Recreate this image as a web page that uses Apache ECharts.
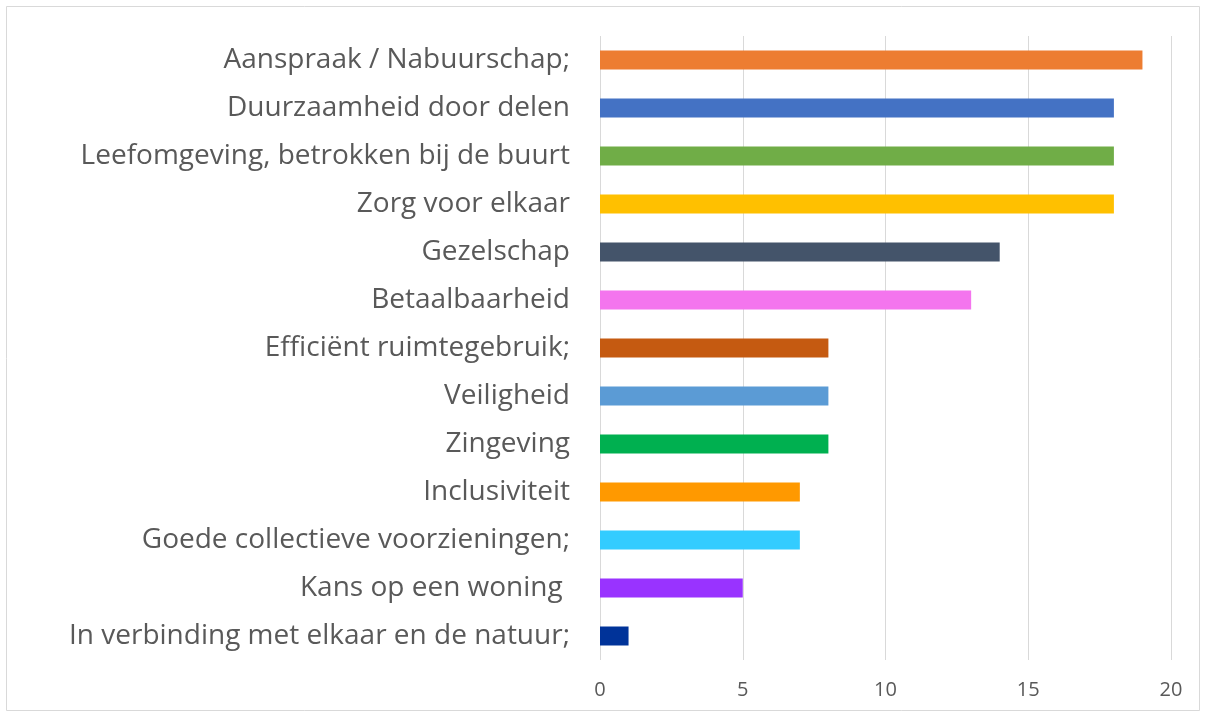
<!DOCTYPE html>
<html><head><meta charset="utf-8">
<script src="https://cdn.jsdelivr.net/npm/echarts@6/dist/echarts.min.js"></script>
<style>html,body{margin:0;padding:0;background:#fff}#c{width:1206px;height:717px}</style>
</head><body><div id="c"></div>
<script>
const categories = [
  "Aanspraak / Nabuurschap;",
  "Duurzaamheid door delen",
  "Leefomgeving, betrokken bij de buurt",
  "Zorg voor elkaar",
  "Gezelschap",
  "Betaalbaarheid",
  "Efficiënt ruimtegebruik;",
  "Veiligheid",
  "Zingeving",
  "Inclusiviteit",
  "Goede collectieve voorzieningen;",
  "Kans op een woning ",
  "In verbinding met elkaar en de natuur;"
];
const values = [19, 18, 18, 18, 14, 13, 8, 8, 8, 7, 7, 5, 1];
const colors = ["#ED7D31","#4472C4","#70AD47","#FFC000","#44546A","#F475EE","#C55A11","#5B9BD5","#00B050","#FF9900","#33CCFF","#9933FF","#003399"];
const xTicks = [0, 5, 10, 15, 20];

const chart = echarts.init(document.getElementById('c'));
chart.setOption({
  animation: false,
  backgroundColor: '#fff',
  graphic: [{type:'rect', shape:{x:6.5,y:6.5,width:1193,height:704}, style:{fill:'none', stroke:'#d9d9d9', lineWidth:1}}],
  grid: {left: 600, right: 35, top: 36, bottom: 57},
  xAxis: {
    type: 'value', min: xTicks[0], max: xTicks[xTicks.length-1], interval: 5,
    axisLine: {show:false}, axisTick: {show:false},
    splitLine: {lineStyle: {color: '#d9d9d9', width: 1}},
    axisLabel: {color: '#595959', fontSize: 20, fontFamily: 'Open Sans', margin: 20}
  },
  yAxis: {
    type: 'category', data: categories, inverse: true,
    axisLine: {show:false}, axisTick: {show:false},
    axisLabel: {color: '#595959', fontSize: 28, fontFamily: 'Open Sans', margin: 30}
  },
  series: [{
    type: 'bar', barWidth: 19,
    data: values.map((v, i) => ({value: v, itemStyle: {color: colors[i]}}))
  }]
});
</script></body></html>
